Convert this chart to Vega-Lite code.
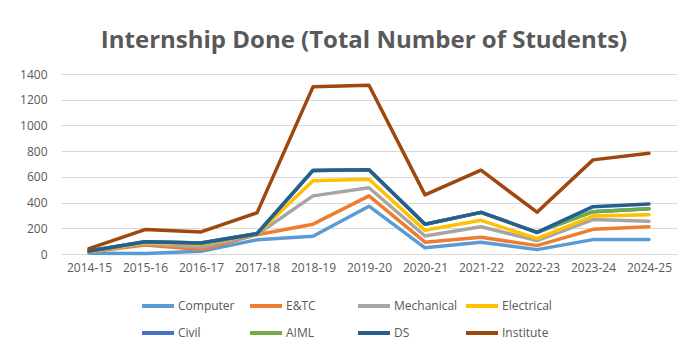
{
  "$schema": "https://vega.github.io/schema/vega-lite/v6.json",
  "width": 616,
  "height": 180,
  "autosize": {"type": "none"},
  "padding": {"left": 61, "top": 74, "right": 23, "bottom": 105},
  "background": "white",
  "title": {
    "text": "Internship Done (Total Number of Students)",
    "font": "Open Sans",
    "fontSize": 24,
    "fontWeight": "bold",
    "color": "#595959",
    "anchor": "middle",
    "offset": 15,
    "dx": -5
  },
  "data": {
    "values": [
      {"year": "2014-15", "series": "Computer", "value": 5},
      {"year": "2015-16", "series": "Computer", "value": 3},
      {"year": "2016-17", "series": "Computer", "value": 22},
      {"year": "2017-18", "series": "Computer", "value": 110},
      {"year": "2018-19", "series": "Computer", "value": 138},
      {"year": "2019-20", "series": "Computer", "value": 372},
      {"year": "2020-21", "series": "Computer", "value": 48},
      {"year": "2021-22", "series": "Computer", "value": 92},
      {"year": "2022-23", "series": "Computer", "value": 34},
      {"year": "2023-24", "series": "Computer", "value": 112},
      {"year": "2024-25", "series": "Computer", "value": 112},
      {"year": "2014-15", "series": "E&TC", "value": 15},
      {"year": "2015-16", "series": "E&TC", "value": 70},
      {"year": "2016-17", "series": "E&TC", "value": 35},
      {"year": "2017-18", "series": "E&TC", "value": 150},
      {"year": "2018-19", "series": "E&TC", "value": 232},
      {"year": "2019-20", "series": "E&TC", "value": 452},
      {"year": "2020-21", "series": "E&TC", "value": 92},
      {"year": "2021-22", "series": "E&TC", "value": 130},
      {"year": "2022-23", "series": "E&TC", "value": 65},
      {"year": "2023-24", "series": "E&TC", "value": 192},
      {"year": "2024-25", "series": "E&TC", "value": 212},
      {"year": "2014-15", "series": "Mechanical", "value": 18},
      {"year": "2015-16", "series": "Mechanical", "value": 80},
      {"year": "2016-17", "series": "Mechanical", "value": 55},
      {"year": "2017-18", "series": "Mechanical", "value": 152},
      {"year": "2018-19", "series": "Mechanical", "value": 452},
      {"year": "2019-20", "series": "Mechanical", "value": 515},
      {"year": "2020-21", "series": "Mechanical", "value": 140},
      {"year": "2021-22", "series": "Mechanical", "value": 212},
      {"year": "2022-23", "series": "Mechanical", "value": 105},
      {"year": "2023-24", "series": "Mechanical", "value": 268},
      {"year": "2024-25", "series": "Mechanical", "value": 254},
      {"year": "2014-15", "series": "Electrical", "value": 20},
      {"year": "2015-16", "series": "Electrical", "value": 88},
      {"year": "2016-17", "series": "Electrical", "value": 78},
      {"year": "2017-18", "series": "Electrical", "value": 155},
      {"year": "2018-19", "series": "Electrical", "value": 570},
      {"year": "2019-20", "series": "Electrical", "value": 582},
      {"year": "2020-21", "series": "Electrical", "value": 184},
      {"year": "2021-22", "series": "Electrical", "value": 262},
      {"year": "2022-23", "series": "Electrical", "value": 120},
      {"year": "2023-24", "series": "Electrical", "value": 295},
      {"year": "2024-25", "series": "Electrical", "value": 306},
      {"year": "2014-15", "series": "Civil", "value": 24},
      {"year": "2015-16", "series": "Civil", "value": 95},
      {"year": "2016-17", "series": "Civil", "value": 86},
      {"year": "2017-18", "series": "Civil", "value": 158},
      {"year": "2018-19", "series": "Civil", "value": 650},
      {"year": "2019-20", "series": "Civil", "value": 656},
      {"year": "2020-21", "series": "Civil", "value": 232},
      {"year": "2021-22", "series": "Civil", "value": 324},
      {"year": "2022-23", "series": "Civil", "value": 168},
      {"year": "2023-24", "series": "Civil", "value": 329},
      {"year": "2024-25", "series": "Civil", "value": 352},
      {"year": "2014-15", "series": "AIML", "value": 24},
      {"year": "2015-16", "series": "AIML", "value": 95},
      {"year": "2016-17", "series": "AIML", "value": 86},
      {"year": "2017-18", "series": "AIML", "value": 158},
      {"year": "2018-19", "series": "AIML", "value": 650},
      {"year": "2019-20", "series": "AIML", "value": 656},
      {"year": "2020-21", "series": "AIML", "value": 232},
      {"year": "2021-22", "series": "AIML", "value": 324},
      {"year": "2022-23", "series": "AIML", "value": 168},
      {"year": "2023-24", "series": "AIML", "value": 329},
      {"year": "2024-25", "series": "AIML", "value": 352},
      {"year": "2014-15", "series": "DS", "value": 24},
      {"year": "2015-16", "series": "DS", "value": 95},
      {"year": "2016-17", "series": "DS", "value": 86},
      {"year": "2017-18", "series": "DS", "value": 158},
      {"year": "2018-19", "series": "DS", "value": 650},
      {"year": "2019-20", "series": "DS", "value": 656},
      {"year": "2020-21", "series": "DS", "value": 232},
      {"year": "2021-22", "series": "DS", "value": 324},
      {"year": "2022-23", "series": "DS", "value": 168},
      {"year": "2023-24", "series": "DS", "value": 368},
      {"year": "2024-25", "series": "DS", "value": 389},
      {"year": "2014-15", "series": "Institute", "value": 42},
      {"year": "2015-16", "series": "Institute", "value": 190},
      {"year": "2016-17", "series": "Institute", "value": 172},
      {"year": "2017-18", "series": "Institute", "value": 320},
      {"year": "2018-19", "series": "Institute", "value": 1300},
      {"year": "2019-20", "series": "Institute", "value": 1312},
      {"year": "2020-21", "series": "Institute", "value": 460},
      {"year": "2021-22", "series": "Institute", "value": 652},
      {"year": "2022-23", "series": "Institute", "value": 325},
      {"year": "2023-24", "series": "Institute", "value": 732},
      {"year": "2024-25", "series": "Institute", "value": 783}
    ]
  },
  "mark": {"type": "line", "strokeWidth": 3.5, "strokeCap": "round", "strokeJoin": "round"},
  "encoding": {
    "x": {
      "field": "year",
      "type": "ordinal",
      "scale": {"type": "point", "padding": 0.5},
      "axis": {
        "title": null,
        "labelAngle": 0,
        "domain": false,
        "ticks": false,
        "grid": false,
        "labelPadding": 8,
        "labelFont": "Open Sans",
        "labelFontSize": 12,
        "labelColor": "#595959"
      }
    },
    "y": {
      "field": "value",
      "type": "quantitative",
      "scale": {"domain": [0, 1400], "nice": false},
      "axis": {
        "title": null,
        "values": [0, 200, 400, 600, 800, 1000, 1200, 1400],
        "format": "d",
        "domain": false,
        "ticks": false,
        "gridColor": "#D9D9D9",
        "gridWidth": 1,
        "labelPadding": 14,
        "labelFont": "Open Sans",
        "labelFontSize": 12,
        "labelColor": "#595959"
      }
    },
    "color": {
      "field": "series",
      "type": "nominal",
      "scale": {
        "domain": ["Computer", "E&TC", "Mechanical", "Electrical", "Civil", "AIML", "DS", "Institute"],
        "range": ["#5B9BD5", "#ED7D31", "#A5A5A5", "#FFC000", "#4472C4", "#70AD47", "#255E91", "#9E480E"]
      },
      "legend": {
        "title": null,
        "orient": "none",
        "legendX": 79,
        "legendY": 214,
        "direction": "horizontal",
        "columns": 4,
        "gridAlign": "all",
        "columnPadding": 0,
        "rowPadding": 1,
        "symbolType": "stroke",
        "symbolSize": 1024,
        "symbolStrokeWidth": 4,
        "labelOffset": 2,
        "labelFont": "Open Sans",
        "labelFontSize": 12,
        "labelColor": "#595959"
      }
    }
  },
  "config": {"view": {"stroke": null}}
}
